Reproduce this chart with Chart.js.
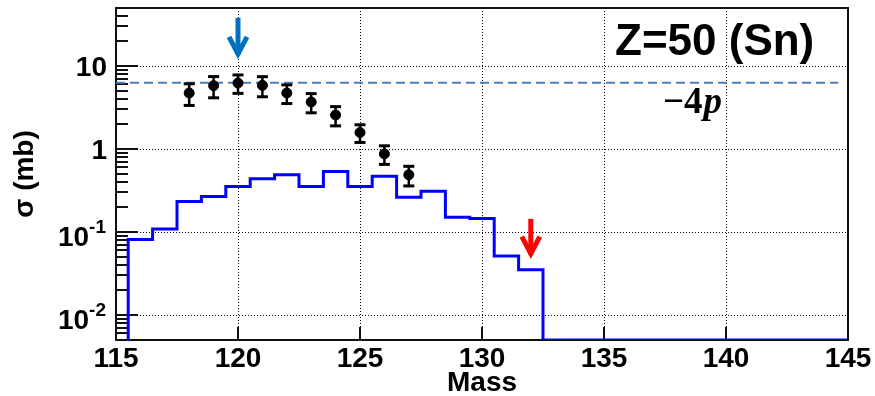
<!DOCTYPE html>
<html>
<head>
<meta charset="utf-8">
<title>Z=50 (Sn) cross sections</title>
<script src="https://cdn.jsdelivr.net/npm/chart.js@4"></script>
<style>
  html, body { margin: 0; padding: 0; background: #fff; }
  #wrap { width: 875px; height: 396px; }
</style>
</head>
<body>
<div id="wrap"><canvas id="c" width="875" height="396"></canvas></div>
<script>
// Calculated cross sections (mb), one value per unit-wide mass bin
const calcMass  = [116, 117, 118, 119, 120, 121, 122, 123, 124, 125, 126, 127, 128, 129, 130,
                   131, 132, 133, 134, 135, 136, 137, 138, 139, 140, 141, 142, 143, 144, 145];
const calcSigma = [0.0814, 0.109, 0.233, 0.268, 0.353, 0.438, 0.489, 0.353, 0.536, 0.353,
                   0.470, 0.262, 0.310, 0.151, 0.145, 0.0513, 0.0352, 0, 0, 0,
                   0, 0, 0, 0, 0, 0, 0, 0, 0, 0];

// Measured cross sections (mb) with symmetric errors
const expMass  = [118, 119, 120, 121, 122, 123, 124, 125, 126, 127];
const expSigma = [4.73, 5.80, 6.24, 5.85, 4.73, 3.69, 2.57, 1.58, 0.873, 0.489];
const expErr   = [1.38, 1.66, 1.56, 1.59, 1.20, 0.96, 0.67, 0.38, 0.22, 0.13];

// Reference level drawn as a dashed line
const refSigma = 6.3;
const refMassRange = [115, 144.6];

// Axes
const xRange = [115, 145];
const xTickValues = [115, 120, 125, 130, 135, 140, 145];
const yRange = [0.005, 50];
const yTickValues = [0.01, 0.1, 1, 10];
const yTickText = [['10', '-2'], ['10', '-1'], ['1', ''], ['10', '']];

const SANS = '"Liberation Sans", Arial, Helvetica, sans-serif';
const SERIF = '"Liberation Serif", "Times New Roman", serif';

function seg(ctx, x1, y1, x2, y2) {
  ctx.beginPath(); ctx.moveTo(x1, y1); ctx.lineTo(x2, y2); ctx.stroke();
}

// Histogram outline: rises from the axis floor at the first bin edge,
// empty bins sit on the floor of the log axis.
const histPoints = [{ x: calcMass[0] - 0.5, y: yRange[0] }];
calcMass.forEach((m, i) => histPoints.push({ x: m - 0.5, y: Math.max(calcSigma[i], yRange[0]) }));
histPoints.push({ x: calcMass[calcMass.length - 1] + 0.5,
                  y: Math.max(calcSigma[calcSigma.length - 1], yRange[0]) });

// Dotted grid, inner tick marks and the frame
const framePlugin = {
  id: 'frame',
  beforeDatasetsDraw(chart) {
    const { ctx, chartArea: a, scales: { x, y } } = chart;
    ctx.save();
    ctx.strokeStyle = '#000';
    ctx.lineWidth = 1;
    ctx.setLineDash([1, 2]);
    xTickValues.forEach(v => {
      if (v <= x.min || v >= x.max) return;
      const px = Math.round(x.getPixelForValue(v)) + 0.5;
      seg(ctx, px, a.top, px, a.bottom);
    });
    yTickValues.forEach(v => {
      const py = Math.round(y.getPixelForValue(v)) + 0.5;
      seg(ctx, a.left, py, a.right, py);
    });
    ctx.setLineDash([]);

    ctx.strokeStyle = '#111';
    ctx.lineWidth = 2;
    xTickValues.forEach(v => {
      const px = Math.round(x.getPixelForValue(v));
      seg(ctx, px, a.bottom, px, a.bottom - 13);
    });
    for (let e = -3; e <= 1; e++) {
      for (let k = 1; k <= 9; k++) {
        const v = k * Math.pow(10, e);
        if (v < y.min || v > y.max) continue;
        const py = Math.round(y.getPixelForValue(v));
        seg(ctx, a.left, py, a.left + (k === 1 ? 22 : 12), py);
      }
    }
    ctx.strokeRect(a.left, a.top, a.right - a.left, a.bottom - a.top);
    ctx.restore();
  }
};

// Error bars with end caps on the measured points
const errorBarPlugin = {
  id: 'errorBars',
  afterDatasetsDraw(chart) {
    const { ctx, scales: { x, y } } = chart;
    ctx.save();
    ctx.strokeStyle = '#000';
    ctx.lineWidth = 2.5;
    expMass.forEach((m, i) => {
      const px = x.getPixelForValue(m);
      const top = y.getPixelForValue(expSigma[i] + expErr[i]);
      const bot = y.getPixelForValue(expSigma[i] - expErr[i]);
      seg(ctx, px, top, px, bot);
      ctx.lineWidth = 3;
      seg(ctx, px - 5.5, top, px + 5.5, top);
      seg(ctx, px - 5.5, bot, px + 5.5, bot);
      ctx.lineWidth = 2.5;
    });
    ctx.restore();
  }
};

// Y tick labels with exponents, arrows and text labels
const labelPlugin = {
  id: 'labels',
  afterDraw(chart) {
    const { ctx, chartArea: a, scales: { x, y } } = chart;
    ctx.save();
    ctx.fillStyle = '#000';
    ctx.textBaseline = 'alphabetic';

    yTickValues.forEach((v, i) => {
      const py = y.getPixelForValue(v);
      const [base, exp] = yTickText[i];
      if (exp) {
        ctx.font = `bold 19px ${SANS}`;
        const we = ctx.measureText(exp).width;
        ctx.font = `bold 28px ${SANS}`;
        const wb = ctx.measureText(base).width;
        const x0 = a.left - 10 - we - wb;
        ctx.textAlign = 'left';
        ctx.fillText(base, x0, py + 14);
        ctx.font = `bold 19px ${SANS}`;
        ctx.fillText(exp, x0 + wb, py + 1);
      } else {
        ctx.font = `bold 28px ${SANS}`;
        ctx.textAlign = 'right';
        ctx.fillText(base, a.left - 9, py + 9.5);
      }
    });

    const arrows = [
      { mass: 120, from: 38, to: 12.2, color: '#0070C0' },
      { mass: 132, from: 0.144, to: 0.0477, color: '#FF0000' }
    ];
    arrows.forEach(ar => {
      const px = x.getPixelForValue(ar.mass);
      const y0 = y.getPixelForValue(ar.from);
      const tip = y.getPixelForValue(ar.to);
      ctx.strokeStyle = ar.color;
      ctx.lineWidth = 5;
      ctx.lineCap = 'butt';
      ctx.lineJoin = 'miter';
      seg(ctx, px, y0, px, tip - 4);
      ctx.beginPath();
      ctx.moveTo(px - 9, tip - 22);
      ctx.lineTo(px, tip - 5);
      ctx.lineTo(px + 9, tip - 22);
      ctx.stroke();
    });

    ctx.textAlign = 'left';
    ctx.font = `bold 44px ${SANS}`;
    ctx.fillText('Z=50 (Sn)', 615, 55);

    ctx.font = `bold 37px ${SERIF}`;
    ctx.fillText('\u22124', 663, 113);
    const w = ctx.measureText('\u22124').width;
    ctx.font = `italic bold 37px ${SERIF}`;
    ctx.fillText('p', 663 + w + 1, 113);
    ctx.restore();
  }
};

new Chart(document.getElementById('c'), {
  type: 'line',
  data: {
    datasets: [
      {
        type: 'scatter',
        data: expMass.map((m, i) => ({ x: m, y: expSigma[i] })),
        pointRadius: 5,
        pointBackgroundColor: '#000',
        pointBorderColor: '#000',
        pointBorderWidth: 1,
        showLine: false,
        order: 1
      },
      {
        data: refMassRange.map(m => ({ x: m, y: refSigma })),
        borderColor: '#4A7EBB',
        borderWidth: 2,
        borderDash: [9, 5],
        pointRadius: 0,
        fill: false,
        order: 2
      },
      {
        data: histPoints,
        stepped: 'before',
        borderColor: '#0000FF',
        borderWidth: 3,
        pointRadius: 0,
        fill: false,
        order: 3
      }
    ]
  },
  options: {
    responsive: false,
    animation: false,
    devicePixelRatio: 1,
    events: [],
    layout: { padding: { top: 8, right: 27, left: 0, bottom: 0 } },
    plugins: { legend: { display: false }, tooltip: { enabled: false } },
    scales: {
      x: {
        type: 'linear',
        min: xRange[0], max: xRange[1],
        grid: { display: false, drawTicks: false },
        border: { display: false },
        ticks: {
          stepSize: 5, autoSkip: false, maxRotation: 0, padding: 2, color: '#000',
          font: { family: SANS, size: 28, weight: 'bold' }
        },
        title: {
          display: true, text: 'Mass', color: '#000',
          font: { family: SANS, size: 28, weight: 'bold', lineHeight: 0.9 },
          padding: { top: 0, bottom: 0 }
        },
        afterFit(s) { s.height = 56; }
      },
      y: {
        type: 'logarithmic',
        min: yRange[0], max: yRange[1],
        grid: { display: false, drawTicks: false },
        border: { display: false },
        ticks: { display: false },
        title: {
          display: true, text: 'σ (mb)', color: '#000',
          font: { family: SANS, size: 28, weight: 'bold', lineHeight: 0.9 },
          padding: { top: 13, bottom: 0 }
        },
        afterFit(s) { s.width = 116; }
      }
    }
  },
  plugins: [framePlugin, errorBarPlugin, labelPlugin]
});
</script>
</body>
</html>
